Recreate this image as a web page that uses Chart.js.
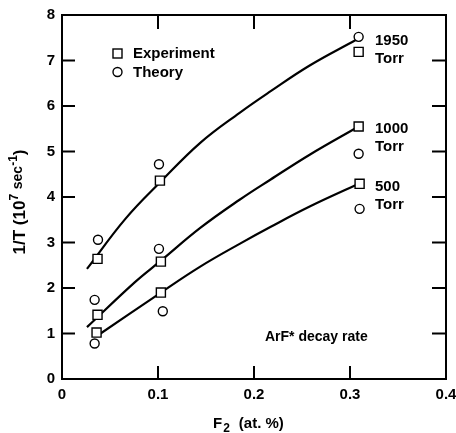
<!DOCTYPE html>
<html>
<head>
<meta charset="utf-8">
<script src="https://cdn.jsdelivr.net/npm/chart.js@4/dist/chart.umd.min.js"></script>
<style>
html,body{margin:0;padding:0;background:#fff}
#caja{width:456px;height:433px}
</style>
</head>
<body>
<div id="caja"><canvas id="graficoDecay"></canvas></div>
<script>
// valores
const xTicks = [0, 0.1, 0.2, 0.3, 0.4];
const yTicks = [0, 1, 2, 3, 4, 5, 6, 7, 8];

const presiones = ["1950", "1000", "500"];

const expX1950 = [0.037, 0.102, 0.309];
const expY1950 = [2.64, 4.36, 7.19];
const expX1000 = [0.037, 0.103, 0.309];
const expY1000 = [1.41, 2.58, 5.55];
const expX500 = [0.036, 0.103, 0.310];
const expY500 = [1.02, 1.90, 4.29];

const teoX1950 = [0.0375, 0.101, 0.309];
const teoY1950 = [3.06, 4.72, 7.52];
const teoX1000 = [0.034, 0.101, 0.309];
const teoY1000 = [1.74, 2.86, 4.95];
const teoX500 = [0.034, 0.105, 0.310];
const teoY500 = [0.78, 1.49, 3.74];

const curvaX1950 = [0.026, 0.066, 0.103, 0.144, 0.185, 0.217, 0.258, 0.306];
const curvaY1950 = [2.42, 3.52, 4.34, 5.19, 5.85, 6.32, 6.89, 7.45];
const curvaX1000 = [0.026, 0.076, 0.103, 0.144, 0.185, 0.217, 0.258, 0.309];
const curvaY1000 = [1.14, 2.13, 2.60, 3.32, 3.94, 4.38, 4.93, 5.55];
const curvaX500 = [0.036, 0.103, 0.144, 0.185, 0.217, 0.258, 0.309];
const curvaY500 = [0.94, 1.90, 2.47, 2.97, 3.34, 3.79, 4.29];

const etiquetaY = [7.35, 5.41, 4.14];   // altura del texto de cada presion

const puntos = (xs, ys) => xs.map((x, i) => ({x: x, y: ys[i]}));
const fuente = '"Liberation Sans", Arial, sans-serif';

function curva(xs, ys) {
    return {
        type: "line", data: puntos(xs, ys), borderColor: "#000", borderWidth: 2.2,
        pointRadius: 0, tension: 0.4, fill: false, order: 2
    };
}
function marcas(xs, ys, estilo, r) {
    return {
        type: "scatter", data: puntos(xs, ys), pointStyle: estilo, pointRadius: r,
        pointBackgroundColor: "#fff", pointBorderColor: "#000", pointBorderWidth: 1.4, order: 0
    };
}

const marcoYTextos = {
    id: "marcoYTextos",
    afterDatasetsDraw(chart) {
        const ctx = chart.ctx;
        const a = chart.chartArea;
        const sx = chart.scales.x, sy = chart.scales.y;
        ctx.save();
        ctx.strokeStyle = "#000";
        ctx.lineWidth = 2;
        ctx.strokeRect(a.left, a.top, a.right - a.left, a.bottom - a.top);
        ctx.beginPath();
        yTicks.slice(1, -1).forEach(v => {
            const y = sy.getPixelForValue(v);
            ctx.moveTo(a.left, y); ctx.lineTo(a.left + 13, y);
            ctx.moveTo(a.right, y); ctx.lineTo(a.right - 14, y);
        });
        xTicks.slice(1, -1).forEach(v => {
            const x = sx.getPixelForValue(v);
            ctx.moveTo(x, a.bottom); ctx.lineTo(x, a.bottom - 13);
            ctx.moveTo(x, a.top); ctx.lineTo(x, a.top + 14);
        });
        ctx.stroke();

        // leyenda
        ctx.lineWidth = 1.4;
        ctx.fillStyle = "#fff";
        ctx.fillRect(113, 49, 9, 9); ctx.strokeRect(113, 49, 9, 9);
        ctx.beginPath(); ctx.arc(117.5, 72, 4.5, 0, Math.PI * 2); ctx.fill(); ctx.stroke();
        ctx.fillStyle = "#000";
        ctx.font = "bold 15px " + fuente;
        ctx.textBaseline = "alphabetic";
        ctx.textAlign = "left";
        ctx.fillText("Experiment", 133, 58);
        ctx.fillText("Theory", 133, 77);

        // presiones
        presiones.forEach((p, i) => {
            const x = sx.getPixelForValue(0.326);
            const y = sy.getPixelForValue(etiquetaY[i]);
            ctx.fillText(p, x, y);
            ctx.fillText("Torr", x, y + 18);
        });

        ctx.font = "bold 14px " + fuente;
        ctx.fillText("ArF* decay rate", 265, 341);

        // titulo eje x
        ctx.font = "bold 15px " + fuente;
        let x = 213;
        ctx.fillText("F", x, 428);
        x += ctx.measureText("F").width + 1;
        ctx.font = "bold 12px " + fuente;
        ctx.fillText("2", x, 432);
        x += ctx.measureText("2").width + 9;
        ctx.font = "bold 15px " + fuente;
        ctx.fillText("(at. %)", x, 428);

        // titulo eje y
        ctx.translate(25, 0);
        ctx.rotate(-Math.PI / 2);
        const partes = [["1/T (10", 17, 0], ["7", 12, -7], [" ", 17, 0], ["sec", 14, -3], ["-1", 12, -8], [")", 17, 0]];
        let total = 0;
        partes.forEach(p => { ctx.font = "bold " + p[1] + "px " + fuente; total += ctx.measureText(p[0]).width; });
        let pos = -202 - total / 2;
        partes.forEach(p => {
            ctx.font = "bold " + p[1] + "px " + fuente;
            ctx.fillText(p[0], pos, p[2]);
            pos += ctx.measureText(p[0]).width;
        });
        ctx.restore();
    }
};

let miCanvas = document.getElementById("graficoDecay").getContext("2d");
var chart = new Chart(miCanvas, {
    type: "scatter",
    data: {
        datasets: [
            curva(curvaX1950, curvaY1950),
            curva(curvaX1000, curvaY1000),
            curva(curvaX500, curvaY500),
            marcas(expX1950, expY1950, "rect", 6.4),
            marcas(expX1000, expY1000, "rect", 6.4),
            marcas(expX500, expY500, "rect", 6.4),
            marcas(teoX1950, teoY1950, "circle", 4.5),
            marcas(teoX1000, teoY1000, "circle", 4.5),
            marcas(teoX500, teoY500, "circle", 4.5)
        ]
    },
    options: {
        responsive: true,
        maintainAspectRatio: false,
        animation: false,
        layout: {padding: {top: 15, right: 10, left: 0, bottom: 0}},
        plugins: {legend: {display: false}, tooltip: {enabled: false}},
        scales: {
            x: {
                type: "linear", min: 0, max: 0.4,
                afterBuildTicks: s => { s.ticks = xTicks.map(v => ({value: v})); },
                afterFit: s => { s.height = 54; s.paddingLeft = 0; s.paddingRight = 0; },
                grid: {display: false, drawTicks: false},
                border: {display: false},
                ticks: {
                    padding: 7, color: "#000",
                    font: {family: fuente, size: 15, weight: "bold"},
                    callback: v => v === 0 ? "0" : v.toFixed(1)
                }
            },
            y: {
                type: "linear", min: 0, max: 8,
                afterBuildTicks: s => { s.ticks = yTicks.map(v => ({value: v})); },
                afterFit: s => { s.width = 62; s.paddingTop = 0; s.paddingBottom = 0; },
                grid: {display: false, drawTicks: false},
                border: {display: false},
                ticks: {
                    padding: 7, color: "#000",
                    font: {family: fuente, size: 15, weight: "bold"}
                }
            }
        }
    },
    plugins: [marcoYTextos]
});
</script>
</body>
</html>
